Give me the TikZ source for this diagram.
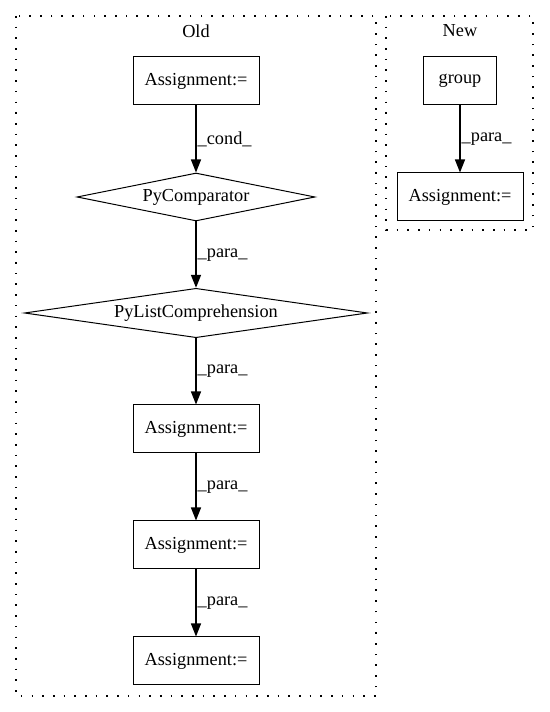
\documentclass[tikz,border=0pt]{standalone}
\usepackage{fontspec}
\setmainfont{Liberation Serif}
\usetikzlibrary{shapes.geometric,arrows.meta}
\begin{document}
\begin{tikzpicture}[x=1pt,y=1pt,
  every node/.style={font=\fontsize{18.3}{21}\selectfont},
  box/.style={draw, line width=1pt, minimum width=126pt, minimum height=48pt, inner sep=0pt},
  cmp/.style={draw, diamond, line width=1pt, aspect=5, inner sep=0pt, minimum height=48pt},
  cluster/.style={draw, line width=1.4pt, dash pattern=on 1.6pt off 9.1pt},
  flow/.style={draw, line width=1.4pt, -{Triangle[length=13pt,width=10pt]}},
  elabel/.style={right, inner sep=1pt, midway}
]
\useasboundingbox (0,0) rectangle (549,712);

% cluster frames and titles
\draw[cluster] (16,696) rectangle (376,16);
\draw[cluster] (386,696) rectangle (533,482);
\node (oldtitle) at (196,681) {Old};
\node (newtitle) at (460,681) {New};

% left cluster
\node[box] (a1) at (196,631) {Assignment:=};
\node[cmp, minimum width=238pt] (pc) at (196,515) {PyComparator};
\node[cmp, minimum width=343pt] (plc) at (196,399) {PyListComprehension};
\node[box] (a2) at (196,283) {Assignment:=};
\node[box] (a3) at (196,167) {Assignment:=};
\node[box] (a4) at (196,51) {Assignment:=};

% right cluster
\node[box, minimum width=73pt] (grp) at (460,631) {group};
\node[box] (an) at (460,515) {Assignment:=};

% connectors
\draw[flow] (a1) -- node[elabel] (l1) {\_cond\_} (pc);
\draw[flow] (pc) -- node[elabel] (l2) {\_para\_} (plc);
\draw[flow] (plc) -- node[elabel] (l3) {\_para\_} (a2);
\draw[flow] (a2) -- node[elabel] (l4) {\_para\_} (a3);
\draw[flow] (a3) -- node[elabel] (l5) {\_para\_} (a4);
\draw[flow] (grp) -- node[elabel] (l6) {\_para\_} (an);
\end{tikzpicture}
\end{document}
